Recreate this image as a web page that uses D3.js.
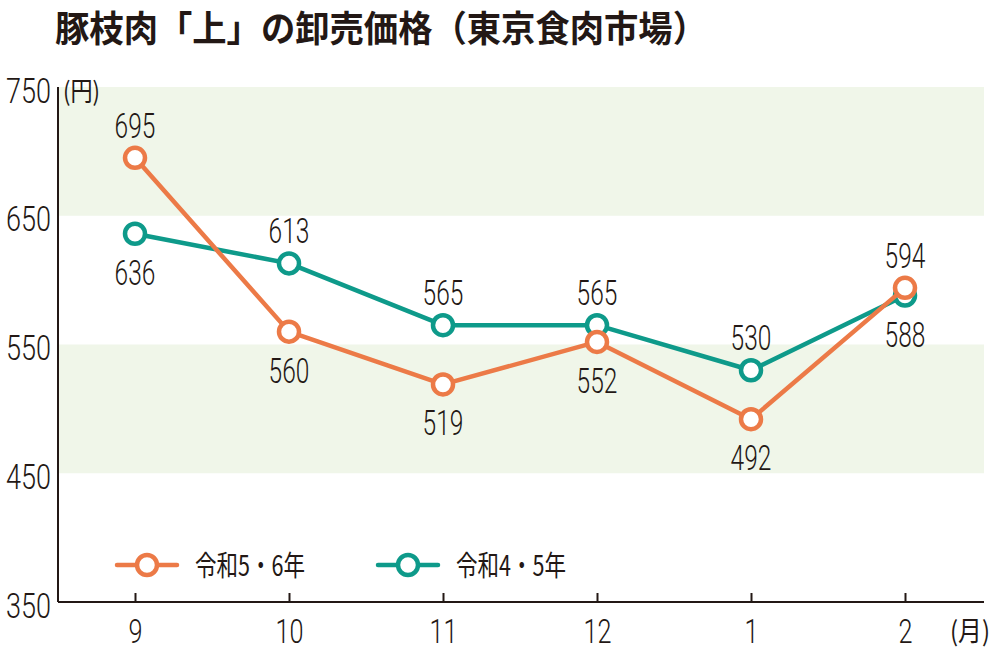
<!DOCTYPE html>
<html><head><meta charset="utf-8">
<script src="https://cdn.jsdelivr.net/npm/d3@7"></script>
<style>
body{margin:0;background:#fff;}
svg{display:block;}
.num{font-family:"Roboto","Liberation Sans",sans-serif;font-weight:300;fill:#231815;}
.jp{font-family:"Noto Sans CJK JP",sans-serif;fill:#231815;}
</style></head>
<body>
<svg id="c" width="1000" height="652"></svg>
<script>
const title = "豚枝肉「上」の卸売価格（東京食肉市場）";
const months = ["9","10","11","12","1","2"];
const seriesNames = ["令和5・6年","令和4・5年"];
const valuesR56 = [695,560,519,552,492,594];
const valuesR45 = [636,613,565,565,530,588];
const yTicks = [350,450,550,650,750];
const bands = [[650,750],[450,550]];
// label placement: 1 = above, -1 = below
const placeR56 = [1,-1,-1,-1,-1,1];
const placeR45 = [-1,1,1,1,1,-1];

const colors = {r56:"#EC7A47", r45:"#0E9A8A", band:"#F0F6E9", ink:"#231815"};
const svg = d3.select("#c");
const L=58, R=984, T=87, B=602;
const x = d3.scalePoint().domain(months).range([135,905]);
const y = d3.scaleLinear().domain([350,750]).range([B,T]);

function narrow(w){
  return sel => sel.attr("textLength",function(){ return this.textContent.length*w; })
     .attr("lengthAdjust","spacingAndGlyphs");
}

svg.append("text").attr("class","jp").attr("x",55).attr("y",42)
  .attr("font-size",36).attr("font-weight","bold").text(title)
  .attr("textLength",652).attr("lengthAdjust","spacingAndGlyphs");

// bands
svg.selectAll("rect.band").data(bands).enter().append("rect")
  .attr("x",L).attr("width",R-L)
  .attr("y",d=>y(d[1])).attr("height",d=>y(d[0])-y(d[1]))
  .attr("fill",colors.band);

// y axis
const yAxis = d3.axisLeft(y).tickValues(yTicks).tickSize(0).tickPadding(7);
const gy = svg.append("g").attr("transform",`translate(${L},0)`).call(yAxis);
gy.select(".domain").attr("stroke",colors.ink).attr("stroke-width",2).attr("d",`M0,${T}V${B}`);
gy.selectAll("text").attr("class","num").attr("font-size",35).attr("dy",15).attr("fill",colors.ink).call(narrow(15));

// x axis
const xAxis = d3.axisBottom(x).tickSize(0).tickPadding(0);
const gx = svg.append("g").attr("transform",`translate(0,${B})`).call(xAxis);
gx.select(".domain").attr("stroke",colors.ink).attr("stroke-width",2).attr("d",`M${L},0H${R}`);
gx.selectAll(".tick line").attr("y2",-9).attr("stroke",colors.ink).attr("stroke-width",2);
gx.selectAll(".tick text").attr("class","num").attr("font-size",33).attr("y",41).attr("dy",0).attr("fill",colors.ink).call(narrow(14));
svg.append("text").attr("class","jp").attr("x",950).attr("y",B+39).attr("font-size",27).text("(月)")
  .attr("textLength",40).attr("lengthAdjust","spacingAndGlyphs");
svg.append("text").attr("class","jp").attr("x",63).attr("y",101).attr("font-size",26).text("(円)")
  .attr("textLength",37).attr("lengthAdjust","spacingAndGlyphs");

const line = d3.line().x((d,i)=>x(months[i])).y(d=>y(d));
function drawSeries(vals, col, place){
  const g = svg.append("g");
  g.append("path").datum(vals).attr("d",line).attr("fill","none").attr("stroke",col).attr("stroke-width",4.5).attr("stroke-linejoin","round");
  g.selectAll("circle").data(vals).enter().append("circle")
    .attr("cx",(d,i)=>x(months[i])).attr("cy",d=>y(d)).attr("r",10)
    .attr("fill","#fff").attr("stroke",col).attr("stroke-width",4.5);
  g.selectAll("text").data(vals).enter().append("text").attr("class","num")
    .attr("x",(d,i)=>x(months[i])).attr("y",(d,i)=>place[i]>0? y(d)-20 : y(d)+51)
    .attr("text-anchor","middle").attr("font-size",35).text(d=>d).call(narrow(13.6));
}
drawSeries(valuesR45, colors.r45, placeR45);
drawSeries(valuesR56, colors.r56, placeR56);

// legend
const leg = [{name:seriesNames[0],col:colors.r56,x:117},{name:seriesNames[1],col:colors.r45,x:378}];
leg.forEach(l=>{
  const g = svg.append("g");
  g.append("line").attr("x1",l.x).attr("x2",l.x+60).attr("y1",565).attr("y2",565).attr("stroke",l.col).attr("stroke-width",4.5).attr("stroke-linecap","round");
  g.append("circle").attr("cx",l.x+30).attr("cy",565).attr("r",10).attr("fill","#fff").attr("stroke",l.col).attr("stroke-width",4.5);
  g.append("text").attr("class","jp").attr("x",l.x+78).attr("y",576).attr("font-size",28).text(l.name)
    .attr("textLength",110).attr("lengthAdjust","spacingAndGlyphs");
});
</script>
</body></html>
